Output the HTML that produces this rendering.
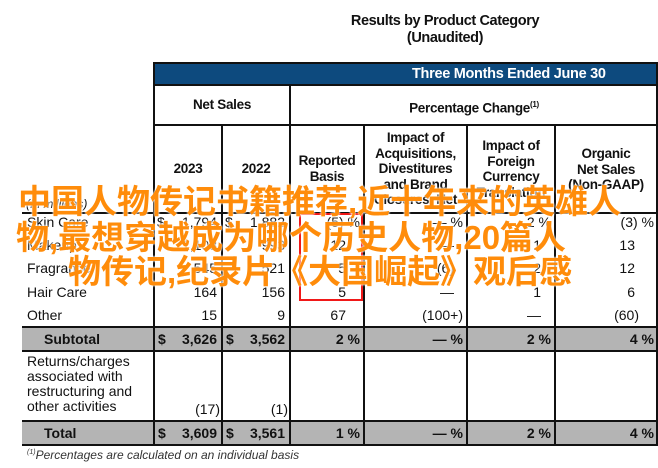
<!DOCTYPE html>
<html><head><meta charset="utf-8"><style>
body{margin:0;width:658px;height:468px;background:#fff;position:relative;overflow:hidden;font-family:"Liberation Sans Narrow","Liberation Sans",sans-serif;color:#111}
.a{position:absolute}
.c{text-align:center}
.r{text-align:right}
.b{font-weight:bold}
.vl{position:absolute;width:2px;background:#111}
.hl{position:absolute;height:2px;background:#111}
.t{font-size:14px;line-height:16px}
.h{font-size:13.5px;line-height:15.5px;letter-spacing:-0.3px}
.ov{position:absolute;font-family:"Liberation Sans","Noto Sans CJK SC",sans-serif;font-weight:bold;font-size:33px;line-height:35px;color:#ff8c0a;white-space:nowrap;text-shadow:0 0 2px #fff,0 0 2px #fff}
</style></head><body>
<div class="a c b" style="left:320px;top:13px;width:250px;font-size:14.5px;line-height:17px;letter-spacing:-0.4px">Results by Product Category<br><span>(Unaudited)</span></div>

<div class="a" style="left:154px;top:62px;width:504px;height:22px;background:#0d4a7e;border-top:2px solid #111"></div>
<div class="a b" style="left:412px;top:64px;color:#fff;font-size:14.5px;line-height:20px;letter-spacing:-0.3px">Three Months Ended June 30</div>

<div class="a" style="left:22px;top:327px;width:636px;height:24px;background:#b4b4b4"></div>
<div class="a" style="left:22px;top:421px;width:636px;height:24px;background:#b4b4b4"></div>

<div class="hl" style="left:154px;top:84px;width:504px"></div>
<div class="hl" style="left:154px;top:124px;width:504px"></div>
<div class="hl" style="left:22px;top:212px;width:636px"></div>
<div class="hl" style="left:22px;top:326px;width:636px"></div>
<div class="hl" style="left:22px;top:350px;width:636px"></div>
<div class="hl" style="left:22px;top:420px;width:636px"></div>
<div class="hl" style="left:22px;top:444px;width:636px"></div>
<div class="vl" style="left:153px;top:62px;height:384px"></div>
<div class="vl" style="left:221px;top:124px;height:322px"></div>
<div class="vl" style="left:289px;top:84px;height:362px"></div>
<div class="vl" style="left:363px;top:124px;height:322px"></div>
<div class="vl" style="left:466px;top:124px;height:322px"></div>
<div class="vl" style="left:554px;top:124px;height:322px"></div>
<div class="vl" style="left:656px;top:62px;height:384px"></div>

<div class="a c b h" style="left:154px;top:97px;width:136px">Net Sales</div>
<div class="a c b h" style="left:290px;top:97px;width:368px">Percentage Change<sup style="font-size:8px">(1)</sup></div>
<div class="a c b h" style="left:154px;top:161px;width:68px">2023</div>
<div class="a c b h" style="left:222px;top:161px;width:68px">2022</div>
<div class="a c b h" style="left:290px;top:153px;width:74px">Reported<br>Basis</div>
<div class="a c b h" style="left:364px;top:130px;width:103px">Impact of<br>Acquisitions,<br>Divestitures<br>and Brand<br>Closures, Net</div>
<div class="a c b h" style="left:467px;top:138px;width:88px">Impact of<br>Foreign<br>Currency<br>Translation</div>
<div class="a c b h" style="left:555px;top:146px;width:102px">Organic<br>Net Sales<br>(Non-GAAP)</div>

<div class="a t" style="left:26px;top:196px;font-style:italic;font-size:12px">(In millions)</div>

<div class="a t" style="left:0;top:214px;width:658px;height:20px">
<span class="a" style="left:27px">Skin Care</span><span class="a" style="left:157px">$</span><span class="a r" style="left:160px;width:57px">1,794</span><span class="a" style="left:225px">$</span><span class="a r" style="left:228px;width:57px">1,882</span><span class="a r" style="left:290px;width:70px">(5) %</span><span class="a r" style="left:364px;width:99px">— %</span><span class="a r" style="left:467px;width:84px">2 %</span><span class="a r" style="left:555px;width:99px">(3) %</span></div>
<div class="a t" style="left:0;top:237px;width:658px;height:20px">
<span class="a" style="left:27px">Makeup</span><span class="a r" style="left:160px;width:57px">1,108</span><span class="a r" style="left:228px;width:57px">993</span><span class="a r" style="left:290px;width:56px">12</span><span class="a r" style="left:364px;width:90px">—</span><span class="a r" style="left:467px;width:74px">1</span><span class="a r" style="left:555px;width:80px">13</span></div>
<div class="a t" style="left:0;top:260px;width:658px;height:20px">
<span class="a" style="left:27px">Fragrance</span><span class="a r" style="left:160px;width:57px">545</span><span class="a r" style="left:228px;width:57px">521</span><span class="a r" style="left:290px;width:56px">5</span><span class="a r" style="left:364px;width:90px">(6)</span><span class="a r" style="left:467px;width:74px">2</span><span class="a r" style="left:555px;width:80px">12</span></div>
<div class="a t" style="left:0;top:284px;width:658px;height:20px">
<span class="a" style="left:27px">Hair Care</span><span class="a r" style="left:160px;width:57px">164</span><span class="a r" style="left:228px;width:57px">156</span><span class="a r" style="left:290px;width:56px">5</span><span class="a r" style="left:364px;width:90px">—</span><span class="a r" style="left:467px;width:74px">1</span><span class="a r" style="left:555px;width:80px">6</span></div>
<div class="a t" style="left:0;top:307px;width:658px;height:20px">
<span class="a" style="left:27px">Other</span><span class="a r" style="left:160px;width:57px">15</span><span class="a r" style="left:228px;width:57px">9</span><span class="a r" style="left:290px;width:56px">67</span><span class="a r" style="left:364px;width:99px">(100+)</span><span class="a r" style="left:467px;width:74px">—</span><span class="a r" style="left:555px;width:84px">(60)</span></div>
<div class="a t b" style="left:0;top:331px;width:658px;height:20px">
<span class="a" style="left:44px">Subtotal</span><span class="a" style="left:158px">$</span><span class="a r" style="left:160px;width:57px">3,626</span><span class="a" style="left:226px">$</span><span class="a r" style="left:228px;width:57px">3,562</span><span class="a r" style="left:290px;width:70px">2 %</span><span class="a r" style="left:364px;width:99px">— %</span><span class="a r" style="left:467px;width:84px">2 %</span><span class="a r" style="left:555px;width:99px">4 %</span></div>
<div class="a t" style="left:0;top:354px;width:658px;height:66px">
<span class="a" style="left:27px;line-height:15px">Returns/charges<br>associated with<br>restructuring and<br>other activities</span><span class="a r" style="left:160px;width:60px;top:47px">(17)</span><span class="a r" style="left:228px;width:60px;top:47px">(1)</span></div>
<div class="a t b" style="left:0;top:425px;width:658px;height:20px">
<span class="a" style="left:44px">Total</span><span class="a" style="left:158px">$</span><span class="a r" style="left:160px;width:57px">3,609</span><span class="a" style="left:226px">$</span><span class="a r" style="left:228px;width:57px">3,561</span><span class="a r" style="left:290px;width:70px">1 %</span><span class="a r" style="left:364px;width:99px">— %</span><span class="a r" style="left:467px;width:84px">2 %</span><span class="a r" style="left:555px;width:99px">4 %</span></div>
<div class="a" style="left:27px;top:448px;font-size:12px;font-style:italic;color:#333"><sup style="font-size:7px">(1)</sup>Percentages are calculated on an individual basis</div>

<div class="a" style="left:299px;top:213px;width:60px;height:84px;border:2px solid #f01818"></div>

<div class="ov" style="left:18px;top:184px">中国人物传记书籍推荐,近十年来的英雄人</div>
<div class="ov" style="left:16px;top:220px">物,最想穿越成为哪个历史人物,20篇人</div>
<div class="ov" style="left:68px;top:254px">物传记,纪录片《大国崛起》观后感</div>
</body></html>
